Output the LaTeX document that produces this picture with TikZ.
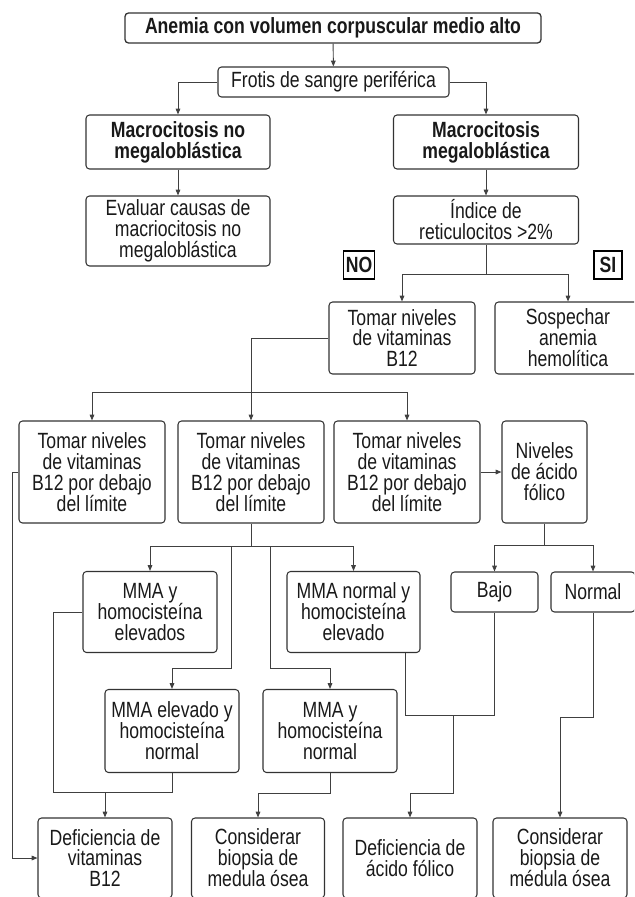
\documentclass[tikz,border=0pt]{standalone}
\usepackage{fontspec}
\setmainfont[FakeStretch=0.8]{Liberation Sans}
\usetikzlibrary{arrows.meta}

\begin{document}
\begin{tikzpicture}[x=0.03cm, y=-0.03cm, >={Triangle[length=5pt,width=4pt]},
    font=\fontsize{18.8pt}{17.9pt}\selectfont, text=black!90,
    wh/.style 2 args={minimum width=#1*0.03cm, minimum height=#2*0.03cm},
    box/.style={draw=black!80, line width=0.9pt, rounded corners=3pt, align=center, inner sep=0pt},
    head/.style={box, font=\fontsize{18.8pt}{17.9pt}\selectfont\bfseries},
    tag/.style={draw=black, line width=1.5pt, inner sep=0pt, font=\fontsize{18.8pt}{17.9pt}\selectfont\bfseries},
    link/.style={black!75, line width=0.8pt}]
  \useasboundingbox (0,0) rectangle (634,897);
  \clip (0,0) rectangle (634,897);
  % ---------------- top ----------------
  \node[head, wh={416}{30}, line width=1.1pt] (anemia) at (333,28) {Anemia con volumen corpuscular medio alto};
  \node[box, wh={231}{30}] (frotis) at (333.5,82) {Frotis de sangre periférica};
  \node[head, wh={184}{54}] (macno) at (178,142) {Macrocitosis no\\ megaloblástica};
  \node[head, wh={185}{54}] (mac) at (486,142) {Macrocitosis\\ megaloblástica};
  \node[box, wh={184}{70}] (evaluar) at (178,231) {Evaluar causas de\\ macriocitosis no\\ megaloblástica};
  \node[box, wh={185}{48}] (indice) at (486,220) {Índice de\\ reticulocitos >2\%};
  \node[tag, wh={31}{28}] (no) at (359,265) {NO};
  \node[tag, wh={28}{28}] (si) at (608,265) {SI};
  \node[box, wh={146}{72}] (tomar) at (402,338) {Tomar niveles\\ de vitaminas\\ B12};
  \node[box, wh={146}{72}] (sosp) at (568,338) {Sospechar\\ anemia\\ hemolítica};
  % ---------------- niveles de B12 ----------------
  \node[box, wh={146}{102}] (bajoA) at (92,472) {Tomar niveles\\ de vitaminas\\ B12 por debajo\\ del límite};
  \node[box, wh={146}{102}] (bajoB) at (251,472) {Tomar niveles\\ de vitaminas\\ B12 por debajo\\ del límite};
  \node[box, wh={146}{102}] (bajoC) at (407,472) {Tomar niveles\\ de vitaminas\\ B12 por debajo\\ del límite};
  \node[box, wh={85}{102}] (folico) at (544.5,472) {Niveles\\ de ácido\\ fólico};
  % ---------------- MMA y homocisteína ----------------
  \node[box, wh={134}{81}] (mmaee) at (150,612) {MMA y\\ homocisteína\\ elevados};
  \node[box, wh={133}{81}] (mmane) at (353.5,612) {MMA normal y\\ homocisteína\\ elevado};
  \node[box, wh={87}{40}] (bajo) at (494.5,592) {Bajo};
  \node[box, wh={84}{40}] (normal) at (593,592) {Normal};
  \node[box, wh={134}{83}] (mmaen) at (172,731) {MMA elevado y\\ homocisteína\\ normal};
  \node[box, wh={134}{83}] (mmann) at (330,731) {MMA y\\ homocisteína\\ normal};
  % ---------------- results ----------------
  \node[box, wh={134}{80}] (defb) at (105,858) {Deficiencia de\\ vitaminas\\ B12};
  \node[box, wh={133}{80}] (biopa) at (258,858) {Considerar\\ biopsia de\\ medula ósea};
  \node[box, wh={134}{80}] (deff) at (410,858) {Deficiencia de\\ ácido fólico};
  \node[box, wh={134}{80}] (biopb) at (560,858) {Considerar\\ biopsia de\\ médula ósea};
  % junctions
  \coordinate (ji) at (486,274);
  \coordinate (jt) at (251,392);
  \coordinate (jb) at (251,546);
  \coordinate (ka) at (231,668);
  \coordinate (kb) at (270,668);
  \coordinate (jf) at (544.5,545);
  \coordinate (jd) at (105,792);
  \coordinate (jn) at (453,715);
  % connectors
  \draw[link,->] (anemia) -- (frotis);
  \draw[link,->] (frotis.west) -| (macno.north);
  \draw[link,->] (frotis.east) -| (mac.north);
  \draw[link,->] (macno) -- (evaluar);
  \draw[link,->] (mac) -- (indice);
  \draw[link] (indice.south) -- (ji);
  \draw[link,->] (ji) -| (tomar.north);
  \draw[link,->] (ji) -| (sosp.north);
  \draw[link] (tomar.west) -| (jt);
  \draw[link,->] (jt) -| (bajoA.north);
  \draw[link,->] (jt) -- (bajoB.north);
  \draw[link,->] (jt) -| (bajoC.north);
  \draw[link,->] (bajoC) -- (folico);
  \draw[link,->] (bajoA.west) -- ++(-6,0) |- (defb.west);
  \draw[link] (bajoB.south) -- (jb);
  \draw[link,->] (jb) -| (mmaee.north);
  \draw[link,->] (jb) -| (mmane.north);
  \draw[link,->] (ka |- jb) -- (ka) -| (mmaen.north);
  \draw[link,->] (kb |- jb) -- (kb) -| (mmann.north);
  \draw[link] (folico.south) -- (jf);
  \draw[link,->] (jf) -| (bajo.north);
  \draw[link,->] (jf) -| (normal.north);
  \draw[link] (mmaee.west) -- ++(-29,0) |- (mmaen.south |- jd) -- (mmaen.south);
  \draw[link,->] (jd) -- (defb.north);
  \draw[link,->] (mmann.south) -- ++(0,20) -| (biopa.north);
  \draw[link] ([xshift=-0.45cm]mmane.south east) |- (bajo.south |- jn) -- (bajo.south);
  \draw[link,->] (jn) -- ++(0,78) -| (deff.north);
  \draw[link,->] (normal.south) -- ++(0,105) -| (biopb.north);
\end{tikzpicture}
\end{document}
